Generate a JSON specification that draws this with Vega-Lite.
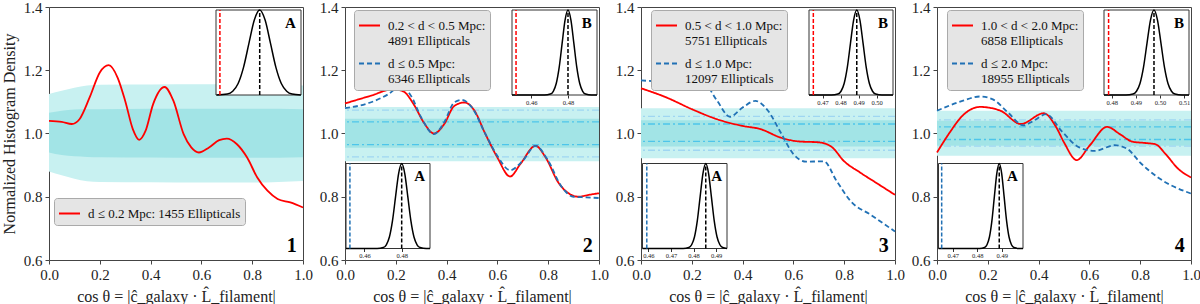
{
"$schema":"https://vega.github.io/schema/vega-lite/v6.json",
"background":"white",
"padding":{"left":0,"right":0,"top":-1,"bottom":0},
"spacing":5,
"resolve":{"scale":{"color":"independent","strokeDash":"independent"},"legend":{"color":"independent","strokeDash":"independent"}},
"config":{
 "font":"Liberation Serif",
 "view":{"stroke":"#444","strokeWidth":1},
 "axis":{"labelFont":"Liberation Serif","titleFont":"Liberation Serif","labelFontSize":15,"titleFontSize":16,"titleFontWeight":"normal","labelColor":"#222","titleColor":"#222","tickColor":"#444","grid":false,"domain":false,"labelFlush":false,"tickSize":4,"labelPadding":3,"titlePadding":6},
 "legend":{"fillColor":"#e5e5e5","strokeColor":"#aaaaaa","cornerRadius":3,"padding":4,"labelFont":"Liberation Serif","labelFontSize":13,"labelColor":"#111","symbolType":"stroke","symbolSize":441,"symbolStrokeWidth":2,"rowPadding":4,"labelLimit":0,"labelOffset":7},
 "text":{"font":"Liberation Serif"}
},
"datasets":{
 "b1":[{"x":0,"olo":0.88,"ohi":1.125,"ilo":0.94,"ihi":1.066},{"x":0.05,"olo":0.868,"ohi":1.135,"ilo":0.932,"ihi":1.072},{"x":0.1,"olo":0.857,"ohi":1.145,"ilo":0.928,"ihi":1.076},{"x":0.15,"olo":0.849,"ohi":1.152,"ilo":0.926,"ihi":1.077},{"x":0.2,"olo":0.847,"ohi":1.154,"ilo":0.925,"ihi":1.077},{"x":0.4,"olo":0.846,"ohi":1.155,"ilo":0.924,"ihi":1.078},{"x":0.6,"olo":0.845,"ohi":1.156,"ilo":0.923,"ihi":1.078},{"x":0.8,"olo":0.845,"ohi":1.155,"ilo":0.923,"ihi":1.078},{"x":1,"olo":0.85,"ohi":1.152,"ilo":0.925,"ihi":1.077}],
 "b2":[{"x":0,"olo":0.912,"ohi":1.084,"ilo":0.955,"ihi":1.047},{"x":1,"olo":0.912,"ohi":1.084,"ilo":0.955,"ihi":1.047}],
 "b3":[{"x":0,"olo":0.922,"ohi":1.08,"ilo":0.959,"ihi":1.042},{"x":1,"olo":0.922,"ohi":1.08,"ilo":0.959,"ihi":1.042}],
 "b4":[{"x":0,"olo":0.93,"ohi":1.072,"ilo":0.961,"ihi":1.04},{"x":1,"olo":0.93,"ohi":1.072,"ilo":0.961,"ihi":1.04}],
 "d2":[{"y":1.037,"k":"in"},{"y":0.965,"k":"in"},{"y":1.074,"k":"out"},{"y":0.926,"k":"out"}],
 "d3":[{"y":1.03,"k":"in"},{"y":0.975,"k":"in"},{"y":1.054,"k":"out"},{"y":0.947,"k":"out"}],
 "d4":[{"y":1.021,"k":"in"},{"y":0.981,"k":"in"},{"y":1.043,"k":"out"},{"y":0.96,"k":"out"}],
 "lab1":[{"s":"r","series":"d ≤ 0.2 Mpc: 1455 Ellipticals"}],
 "lab2":[{"s":"r","series":"0.2 < d < 0.5 Mpc:|4891 Ellipticals"},{"s":"b","series":"d ≤ 0.5 Mpc:|6346 Ellipticals"}],
 "lab3":[{"s":"r","series":"0.5 < d < 1.0 Mpc:|5751 Ellipticals"},{"s":"b","series":"d ≤ 1.0 Mpc:|12097 Ellipticals"}],
 "lab4":[{"s":"r","series":"1.0 < d < 2.0 Mpc:|6858 Ellipticals"},{"s":"b","series":"d ≤ 2.0 Mpc:|18955 Ellipticals"}],
 "c1":[{"s":"r","x":0,"y":1.04},{"s":"r","x":0.05,"y":1.037},{"s":"r","x":0.09,"y":1.03},{"s":"r","x":0.12,"y":1.045},{"s":"r","x":0.16,"y":1.114},{"s":"r","x":0.2,"y":1.193},{"s":"r","x":0.235,"y":1.216},{"s":"r","x":0.27,"y":1.177},{"s":"r","x":0.3,"y":1.103},{"s":"r","x":0.33,"y":1.014},{"s":"r","x":0.355,"y":0.98},{"s":"r","x":0.38,"y":1.008},{"s":"r","x":0.41,"y":1.093},{"s":"r","x":0.455,"y":1.147},{"s":"r","x":0.49,"y":1.103},{"s":"r","x":0.53,"y":0.998},{"s":"r","x":0.56,"y":0.956},{"s":"r","x":0.59,"y":0.94},{"s":"r","x":0.63,"y":0.956},{"s":"r","x":0.67,"y":0.979},{"s":"r","x":0.7,"y":0.984},{"s":"r","x":0.74,"y":0.966},{"s":"r","x":0.78,"y":0.924},{"s":"r","x":0.82,"y":0.861},{"s":"r","x":0.86,"y":0.819},{"s":"r","x":0.9,"y":0.793},{"s":"r","x":0.95,"y":0.782},{"s":"r","x":1,"y":0.766}],
 "c2":[{"s":"r","x":0,"y":1.095},{"s":"r","x":0.1,"y":1.119},{"s":"r","x":0.19,"y":1.14},{"s":"r","x":0.23,"y":1.133},{"s":"r","x":0.27,"y":1.093},{"s":"r","x":0.31,"y":1.035},{"s":"r","x":0.35,"y":1.0},{"s":"r","x":0.39,"y":1.029},{"s":"r","x":0.43,"y":1.087},{"s":"r","x":0.47,"y":1.098},{"s":"r","x":0.51,"y":1.072},{"s":"r","x":0.55,"y":1.003},{"s":"r","x":0.6,"y":0.924},{"s":"r","x":0.65,"y":0.864},{"s":"r","x":0.69,"y":0.903},{"s":"r","x":0.75,"y":0.961},{"s":"r","x":0.79,"y":0.924},{"s":"r","x":0.84,"y":0.845},{"s":"r","x":0.88,"y":0.811},{"s":"r","x":0.92,"y":0.8},{"s":"r","x":0.96,"y":0.806},{"s":"r","x":1,"y":0.811},
  {"s":"b","x":0,"y":1.08},{"s":"b","x":0.1,"y":1.098},{"s":"b","x":0.17,"y":1.124},{"s":"b","x":0.22,"y":1.15},{"s":"b","x":0.26,"y":1.119},{"s":"b","x":0.3,"y":1.051},{"s":"b","x":0.35,"y":0.998},{"s":"b","x":0.39,"y":1.035},{"s":"b","x":0.43,"y":1.098},{"s":"b","x":0.46,"y":1.106},{"s":"b","x":0.5,"y":1.082},{"s":"b","x":0.55,"y":1.003},{"s":"b","x":0.6,"y":0.929},{"s":"b","x":0.65,"y":0.884},{"s":"b","x":0.7,"y":0.914},{"s":"b","x":0.75,"y":0.961},{"s":"b","x":0.8,"y":0.914},{"s":"b","x":0.85,"y":0.835},{"s":"b","x":0.9,"y":0.8},{"s":"b","x":0.95,"y":0.798},{"s":"b","x":1,"y":0.796}],
 "c3":[{"s":"r","x":0,"y":1.143},{"s":"r","x":0.1,"y":1.114},{"s":"r","x":0.2,"y":1.077},{"s":"r","x":0.3,"y":1.045},{"s":"r","x":0.4,"y":1.024},{"s":"r","x":0.47,"y":1.014},{"s":"r","x":0.55,"y":0.987},{"s":"r","x":0.62,"y":0.975},{"s":"r","x":0.7,"y":0.972},{"s":"r","x":0.75,"y":0.958},{"s":"r","x":0.8,"y":0.912},{"s":"r","x":0.86,"y":0.878},{"s":"r","x":0.93,"y":0.842},{"s":"r","x":1,"y":0.806},
  {"s":"b","x":0,"y":1.168},{"s":"b","x":0.1,"y":1.164},{"s":"b","x":0.2,"y":1.175},{"s":"b","x":0.25,"y":1.161},{"s":"b","x":0.3,"y":1.103},{"s":"b","x":0.35,"y":1.053},{"s":"b","x":0.4,"y":1.082},{"s":"b","x":0.45,"y":1.103},{"s":"b","x":0.5,"y":1.072},{"s":"b","x":0.55,"y":1.003},{"s":"b","x":0.6,"y":0.935},{"s":"b","x":0.65,"y":0.911},{"s":"b","x":0.72,"y":0.912},{"s":"b","x":0.77,"y":0.85},{"s":"b","x":0.83,"y":0.782},{"s":"b","x":0.9,"y":0.745},{"s":"b","x":1,"y":0.69}],
 "c4":[{"s":"r","x":0,"y":0.94},{"s":"r","x":0.05,"y":1.003},{"s":"r","x":0.1,"y":1.056},{"s":"r","x":0.17,"y":1.084},{"s":"r","x":0.25,"y":1.072},{"s":"r","x":0.33,"y":1.03},{"s":"r","x":0.42,"y":1.064},{"s":"r","x":0.47,"y":1.019},{"s":"r","x":0.5,"y":0.972},{"s":"r","x":0.55,"y":0.916},{"s":"r","x":0.6,"y":0.961},{"s":"r","x":0.67,"y":1.021},{"s":"r","x":0.72,"y":0.998},{"s":"r","x":0.77,"y":0.974},{"s":"r","x":0.82,"y":0.97},{"s":"r","x":0.86,"y":0.966},{"s":"r","x":0.9,"y":0.935},{"s":"r","x":0.95,"y":0.888},{"s":"r","x":1,"y":0.861},
  {"s":"b","x":0,"y":1.072},{"s":"b","x":0.1,"y":1.103},{"s":"b","x":0.17,"y":1.117},{"s":"b","x":0.22,"y":1.108},{"s":"b","x":0.28,"y":1.066},{"s":"b","x":0.34,"y":1.026},{"s":"b","x":0.38,"y":1.04},{"s":"b","x":0.43,"y":1.061},{"s":"b","x":0.49,"y":1.008},{"s":"b","x":0.56,"y":0.956},{"s":"b","x":0.62,"y":0.945},{"s":"b","x":0.7,"y":0.963},{"s":"b","x":0.75,"y":0.951},{"s":"b","x":0.8,"y":0.908},{"s":"b","x":0.87,"y":0.861},{"s":"b","x":1,"y":0.81}],
 "g1":[{"x":0.448,"y":0.0003},{"x":0.456,"y":0.011},{"x":0.46,"y":0.044},{"x":0.464,"y":0.135},{"x":0.468,"y":0.325},{"x":0.472,"y":0.607},{"x":0.476,"y":0.882},{"x":0.48,"y":1},{"x":0.484,"y":0.882},{"x":0.488,"y":0.607},{"x":0.492,"y":0.325},{"x":0.496,"y":0.135},{"x":0.5,"y":0.044},{"x":0.504,"y":0.011},{"x":0.5105,"y":0.0003}],
 "g2b":[{"x":0.4495,"y":0},{"x":0.4672,"y":0.0003},{"x":0.4704,"y":0.011},{"x":0.472,"y":0.044},{"x":0.4736,"y":0.135},{"x":0.4752,"y":0.325},{"x":0.4768,"y":0.607},{"x":0.4784,"y":0.882},{"x":0.48,"y":1},{"x":0.4816,"y":0.882},{"x":0.4832,"y":0.607},{"x":0.4848,"y":0.325},{"x":0.4864,"y":0.135},{"x":0.488,"y":0.044},{"x":0.4896,"y":0.011},{"x":0.4928,"y":0.0003},{"x":0.4958,"y":0}],
 "g2a":[{"x":0.4501,"y":0},{"x":0.4668,"y":0.0003},{"x":0.4701,"y":0.011},{"x":0.47175,"y":0.044},{"x":0.4734,"y":0.135},{"x":0.47505,"y":0.325},{"x":0.4767,"y":0.607},{"x":0.47835,"y":0.882},{"x":0.48,"y":1},{"x":0.48165,"y":0.882},{"x":0.4833,"y":0.607},{"x":0.48495,"y":0.325},{"x":0.4866,"y":0.135},{"x":0.48825,"y":0.044},{"x":0.4899,"y":0.011},{"x":0.4932,"y":0.0003},{"x":0.4952,"y":0}],
 "g3b":[{"x":0.4625,"y":0},{"x":0.475,"y":0.0003},{"x":0.4785,"y":0.011},{"x":0.48025,"y":0.044},{"x":0.482,"y":0.135},{"x":0.48375,"y":0.325},{"x":0.4855,"y":0.607},{"x":0.48725,"y":0.882},{"x":0.489,"y":1},{"x":0.49075,"y":0.882},{"x":0.4925,"y":0.607},{"x":0.49425,"y":0.325},{"x":0.496,"y":0.135},{"x":0.49775,"y":0.044},{"x":0.4995,"y":0.011},{"x":0.503,"y":0.0003},{"x":0.5091,"y":0}],
 "g3a":[{"x":0.4574,"y":0},{"x":0.4754,"y":0.0003},{"x":0.4779,"y":0.011},{"x":0.47915,"y":0.044},{"x":0.4804,"y":0.135},{"x":0.48165,"y":0.325},{"x":0.4829,"y":0.607},{"x":0.48415,"y":0.882},{"x":0.4854,"y":1},{"x":0.48665,"y":0.882},{"x":0.4879,"y":0.607},{"x":0.48915,"y":0.325},{"x":0.4904,"y":0.135},{"x":0.49165,"y":0.044},{"x":0.4929,"y":0.011},{"x":0.4948,"y":0.0005}],
 "g4b":[{"x":0.4768,"y":0},{"x":0.4859,"y":0.0003},{"x":0.4888,"y":0.011},{"x":0.49025,"y":0.044},{"x":0.4917,"y":0.135},{"x":0.49315,"y":0.325},{"x":0.4946,"y":0.607},{"x":0.49605,"y":0.882},{"x":0.4975,"y":1},{"x":0.49895,"y":0.882},{"x":0.5004,"y":0.607},{"x":0.50185,"y":0.325},{"x":0.5033,"y":0.135},{"x":0.50475,"y":0.044},{"x":0.5062,"y":0.011},{"x":0.5091,"y":0.0003},{"x":0.512,"y":0}],
 "g4a":[{"x":0.4642,"y":0},{"x":0.481,"y":0.0003},{"x":0.483,"y":0.011},{"x":0.484,"y":0.044},{"x":0.485,"y":0.135},{"x":0.486,"y":0.325},{"x":0.487,"y":0.607},{"x":0.488,"y":0.882},{"x":0.489,"y":1},{"x":0.49,"y":0.882},{"x":0.491,"y":0.607},{"x":0.492,"y":0.325},{"x":0.493,"y":0.135},{"x":0.494,"y":0.044},{"x":0.495,"y":0.011},{"x":0.497,"y":0.0003},{"x":0.4987,"y":0}]
},
"hconcat":[
{
 "width":254,"height":253,
 "resolve":{"scale":{"x":"independent","y":"independent"}},
 "layer":[
   {"data":{"name":"b1"},"mark":{"type":"area","color":"#c8f1f1","interpolate":"monotone"},"encoding":{"x":{"field":"x","type":"quantitative","scale":{"domain":[0,1],"nice":false,"zero":false},"axis":{"values":[0,0.2,0.4,0.6,0.8,1],"format":".1f","title":"cos θ = |ĉ_galaxy · L̂_filament|"}},"y":{"field":"olo","type":"quantitative","scale":{"domain":[0.6,1.4],"nice":false,"zero":false},"axis":{"values":[0.6,0.8,1,1.2,1.4],"format":".1f","title":"Normalized Histogram Density"}},"y2":{"field":"ohi"}}},
   {"data":{"name":"b1"},"mark":{"type":"area","color":"#a2e4e6","interpolate":"monotone"},"encoding":{"x":{"field":"x","type":"quantitative","scale":{"domain":[0,1],"nice":false,"zero":false},"axis":null},"y":{"field":"ilo","type":"quantitative","scale":{"domain":[0.6,1.4],"nice":false,"zero":false},"axis":null},"y2":{"field":"ihi"}}},
   {"data":{"name":"c1"},"transform":[{"lookup":"s","from":{"data":{"name":"lab1"},"key":"s","fields":["series"]}}],"mark":{"type":"line","interpolate":"monotone","strokeWidth":1.8},"encoding":{"x":{"field":"x","type":"quantitative","scale":{"domain":[0,1],"nice":false,"zero":false},"axis":null},"y":{"field":"y","type":"quantitative","scale":{"domain":[0.6,1.4],"nice":false,"zero":false},"axis":null},"color":{"field":"series","type":"nominal","scale":{"domain":["d ≤ 0.2 Mpc: 1455 Ellipticals"],"range":["#ff0000"]},"legend":{"orient":"none","legendX":5,"legendY":191,"title":null,"labelExpr":"split(datum.label,'|')"}}}},
   {"data":{"values":[{"label":"1"}]},"mark":{"type":"text","fontSize":20,"fontWeight":"bold","align":"right","baseline":"alphabetic"},"encoding":{"x":{"datum":0.975,"type":"quantitative","scale":{"domain":[0,1],"nice":false,"zero":false},"axis":null},"y":{"datum":0.625,"type":"quantitative","scale":{"domain":[0.6,1.4],"nice":false,"zero":false},"axis":null},"text":{"field":"label"}}},
   {"data":{"values":[{}]},"mark":{"type":"rect","fill":"white","stroke":"#333","strokeWidth":1},"encoding":{"x":{"datum":0.4476,"type":"quantitative","scale":{"domain":[0.4476,0.5106],"range":[167,252],"nice":false,"zero":false},"axis":{"orient":"bottom","offset":-165,"values":[0.46,0.48,0.5],"format":".2f","labelFontSize":6.5,"tickSize":3,"labelPadding":1,"title":null,"labelColor":"#222","tickColor":"#333"}},"x2":{"datum":0.5106},"y":{"datum":0,"type":"quantitative","scale":{"domain":[0,1],"range":[88,3],"nice":false,"zero":false},"axis":null},"y2":{"datum":1}}},
   {"data":{"name":"g1"},"mark":{"type":"line","color":"black","strokeWidth":1.5,"interpolate":"monotone"},"encoding":{"x":{"field":"x","type":"quantitative","scale":{"domain":[0.4476,0.5106],"range":[167,252],"nice":false,"zero":false},"axis":null},"y":{"field":"y","type":"quantitative","scale":{"domain":[0,1],"range":[88,3],"nice":false,"zero":false},"axis":null}}},
   {"data":{"values":[{}]},"mark":{"type":"rule","color":"black","strokeDash":[4,2],"strokeWidth":1.5},"encoding":{"x":{"datum":0.48,"type":"quantitative","scale":{"domain":[0.4476,0.5106],"range":[167,252],"nice":false,"zero":false},"axis":null},"y":{"datum":0,"type":"quantitative","scale":{"domain":[0,1],"range":[88,3],"nice":false,"zero":false},"axis":null},"y2":{"datum":1}}},
   {"data":{"values":[{}]},"mark":{"type":"rule","color":"#ff0000","strokeDash":[4,2],"strokeWidth":1.5},"encoding":{"x":{"datum":0.4505,"type":"quantitative","scale":{"domain":[0.4476,0.5106],"range":[167,252],"nice":false,"zero":false},"axis":null},"y":{"datum":0,"type":"quantitative","scale":{"domain":[0,1],"range":[88,3],"nice":false,"zero":false},"axis":null},"y2":{"datum":1}}},
   {"data":{"values":[{"label":"A"}]},"mark":{"type":"text","fontSize":15,"fontWeight":"bold","align":"right","baseline":"alphabetic"},"encoding":{"x":{"datum":0.5068,"type":"quantitative","scale":{"domain":[0.4476,0.5106],"range":[167,252],"nice":false,"zero":false},"axis":null},"y":{"datum":0.79,"type":"quantitative","scale":{"domain":[0,1],"range":[88,3],"nice":false,"zero":false},"axis":null},"text":{"field":"label"}}}
 ]
},
{
 "width":254,"height":253,
 "resolve":{"scale":{"x":"independent","y":"independent"}},
 "layer":[
   {"data":{"name":"b2"},"mark":{"type":"area","color":"#c8f1f1"},"encoding":{"x":{"field":"x","type":"quantitative","scale":{"domain":[0,1],"nice":false,"zero":false},"axis":{"values":[0,0.2,0.4,0.6,0.8,1],"format":".1f","title":"cos θ = |ĉ_galaxy · L̂_filament|"}},"y":{"field":"olo","type":"quantitative","scale":{"domain":[0.6,1.4],"nice":false,"zero":false},"axis":{"values":[0.6,0.8,1,1.2,1.4],"format":".1f","title":null}},"y2":{"field":"ohi"}}},
   {"data":{"name":"b2"},"mark":{"type":"area","color":"#a2e4e6"},"encoding":{"x":{"field":"x","type":"quantitative","scale":{"domain":[0,1],"nice":false,"zero":false},"axis":null},"y":{"field":"ilo","type":"quantitative","scale":{"domain":[0.6,1.4],"nice":false,"zero":false},"axis":null},"y2":{"field":"ihi"}}},
   {"data":{"name":"d2"},"transform":[{"filter":"datum.k == 'out'"}],"mark":{"type":"rule","color":"#9fd6f2","strokeWidth":1.3,"strokeDash":[7,3,2,3]},"encoding":{"y":{"field":"y","type":"quantitative","scale":{"domain":[0.6,1.4],"nice":false,"zero":false},"axis":null}}},
   {"data":{"name":"d2"},"transform":[{"filter":"datum.k == 'in'"}],"mark":{"type":"rule","color":"#4ec5ea","strokeWidth":1.3,"strokeDash":[7,3,2,3]},"encoding":{"y":{"field":"y","type":"quantitative","scale":{"domain":[0.6,1.4],"nice":false,"zero":false},"axis":null}}},
   {"data":{"name":"c2"},"transform":[{"lookup":"s","from":{"data":{"name":"lab2"},"key":"s","fields":["series"]}}],"mark":{"type":"line","interpolate":"monotone","strokeWidth":1.8},"encoding":{"x":{"field":"x","type":"quantitative","scale":{"domain":[0,1],"nice":false,"zero":false},"axis":null},"y":{"field":"y","type":"quantitative","scale":{"domain":[0.6,1.4],"nice":false,"zero":false},"axis":null},"color":{"field":"series","type":"nominal","scale":{"domain":["0.2 < d < 0.5 Mpc:|4891 Ellipticals","d ≤ 0.5 Mpc:|6346 Ellipticals"],"range":["#ff0000","#2171b5"]},"legend":{"orient":"none","legendX":9,"legendY":3,"title":null,"labelExpr":"split(datum.label,'|')"}},"strokeDash":{"field":"series","type":"nominal","scale":{"domain":["0.2 < d < 0.5 Mpc:|4891 Ellipticals","d ≤ 0.5 Mpc:|6346 Ellipticals"],"range":[[1,0],[5,3]]},"legend":{"orient":"none","legendX":9,"legendY":3,"title":null,"labelExpr":"split(datum.label,'|')"}}}},
   {"data":{"values":[{"label":"2"}]},"mark":{"type":"text","fontSize":20,"fontWeight":"bold","align":"right","baseline":"alphabetic"},"encoding":{"x":{"datum":0.975,"type":"quantitative","scale":{"domain":[0,1],"nice":false,"zero":false},"axis":null},"y":{"datum":0.625,"type":"quantitative","scale":{"domain":[0.6,1.4],"nice":false,"zero":false},"axis":null},"text":{"field":"label"}}},
   {"data":{"values":[{}]},"mark":{"type":"rect","fill":"white","stroke":"#333","strokeWidth":1},"encoding":{"x":{"datum":0.4495,"type":"quantitative","scale":{"domain":[0.4495,0.4958],"range":[167,252],"nice":false,"zero":false},"axis":{"orient":"bottom","offset":-165,"values":[0.46,0.48],"format":".2f","labelFontSize":6.5,"tickSize":3,"labelPadding":1,"title":null,"labelColor":"#222","tickColor":"#333"}},"x2":{"datum":0.4958},"y":{"datum":0,"type":"quantitative","scale":{"domain":[0,1],"range":[88,3],"nice":false,"zero":false},"axis":null},"y2":{"datum":1}}},
   {"data":{"name":"g2b"},"mark":{"type":"line","color":"black","strokeWidth":1.5,"interpolate":"monotone"},"encoding":{"x":{"field":"x","type":"quantitative","scale":{"domain":[0.4495,0.4958],"range":[167,252],"nice":false,"zero":false},"axis":null},"y":{"field":"y","type":"quantitative","scale":{"domain":[0,1],"range":[88,3],"nice":false,"zero":false},"axis":null}}},
   {"data":{"values":[{}]},"mark":{"type":"rule","color":"black","strokeDash":[4,2],"strokeWidth":1.5},"encoding":{"x":{"datum":0.48,"type":"quantitative","scale":{"domain":[0.4495,0.4958],"range":[167,252],"nice":false,"zero":false},"axis":null},"y":{"datum":0,"type":"quantitative","scale":{"domain":[0,1],"range":[88,3],"nice":false,"zero":false},"axis":null},"y2":{"datum":1}}},
   {"data":{"values":[{}]},"mark":{"type":"rule","color":"#ff0000","strokeDash":[4,2],"strokeWidth":1.5},"encoding":{"x":{"datum":0.4517,"type":"quantitative","scale":{"domain":[0.4495,0.4958],"range":[167,252],"nice":false,"zero":false},"axis":null},"y":{"datum":0,"type":"quantitative","scale":{"domain":[0,1],"range":[88,3],"nice":false,"zero":false},"axis":null},"y2":{"datum":1}}},
   {"data":{"values":[{"label":"B"}]},"mark":{"type":"text","fontSize":15,"fontWeight":"bold","align":"right","baseline":"alphabetic"},"encoding":{"x":{"datum":0.493,"type":"quantitative","scale":{"domain":[0.4495,0.4958],"range":[167,252],"nice":false,"zero":false},"axis":null},"y":{"datum":0.79,"type":"quantitative","scale":{"domain":[0,1],"range":[88,3],"nice":false,"zero":false},"axis":null},"text":{"field":"label"}}},
   {"data":{"values":[{}]},"mark":{"type":"rect","fill":"white","stroke":"#333","strokeWidth":1},"encoding":{"x":{"datum":0.4501,"type":"quantitative","scale":{"domain":[0.4501,0.4952],"range":[1,85],"nice":false,"zero":false},"axis":{"orient":"bottom","offset":-11.5,"values":[0.46,0.48],"format":".2f","labelFontSize":6.5,"tickSize":3,"labelPadding":1,"title":null,"labelColor":"#222","tickColor":"#333"}},"x2":{"datum":0.4952},"y":{"datum":0,"type":"quantitative","scale":{"domain":[0,1],"range":[241.5,156.5],"nice":false,"zero":false},"axis":null},"y2":{"datum":1}}},
   {"data":{"name":"g2a"},"mark":{"type":"line","color":"black","strokeWidth":1.5,"interpolate":"monotone"},"encoding":{"x":{"field":"x","type":"quantitative","scale":{"domain":[0.4501,0.4952],"range":[1,85],"nice":false,"zero":false},"axis":null},"y":{"field":"y","type":"quantitative","scale":{"domain":[0,1],"range":[241.5,156.5],"nice":false,"zero":false},"axis":null}}},
   {"data":{"values":[{}]},"mark":{"type":"rule","color":"black","strokeDash":[4,2],"strokeWidth":1.5},"encoding":{"x":{"datum":0.48,"type":"quantitative","scale":{"domain":[0.4501,0.4952],"range":[1,85],"nice":false,"zero":false},"axis":null},"y":{"datum":0,"type":"quantitative","scale":{"domain":[0,1],"range":[241.5,156.5],"nice":false,"zero":false},"axis":null},"y2":{"datum":1}}},
   {"data":{"values":[{}]},"mark":{"type":"rule","color":"#2171b5","strokeDash":[4,2],"strokeWidth":1.5},"encoding":{"x":{"datum":0.4522,"type":"quantitative","scale":{"domain":[0.4501,0.4952],"range":[1,85],"nice":false,"zero":false},"axis":null},"y":{"datum":0,"type":"quantitative","scale":{"domain":[0,1],"range":[241.5,156.5],"nice":false,"zero":false},"axis":null},"y2":{"datum":1}}},
   {"data":{"values":[{"label":"A"}]},"mark":{"type":"text","fontSize":15,"fontWeight":"bold","align":"right","baseline":"alphabetic"},"encoding":{"x":{"datum":0.4925,"type":"quantitative","scale":{"domain":[0.4501,0.4952],"range":[1,85],"nice":false,"zero":false},"axis":null},"y":{"datum":0.79,"type":"quantitative","scale":{"domain":[0,1],"range":[241.5,156.5],"nice":false,"zero":false},"axis":null},"text":{"field":"label"}}}
 ]
},
{
 "width":254,"height":253,
 "resolve":{"scale":{"x":"independent","y":"independent"}},
 "layer":[
   {"data":{"name":"b3"},"mark":{"type":"area","color":"#c8f1f1"},"encoding":{"x":{"field":"x","type":"quantitative","scale":{"domain":[0,1],"nice":false,"zero":false},"axis":{"values":[0,0.2,0.4,0.6,0.8,1],"format":".1f","title":"cos θ = |ĉ_galaxy · L̂_filament|"}},"y":{"field":"olo","type":"quantitative","scale":{"domain":[0.6,1.4],"nice":false,"zero":false},"axis":{"values":[0.6,0.8,1,1.2,1.4],"format":".1f","title":null}},"y2":{"field":"ohi"}}},
   {"data":{"name":"b3"},"mark":{"type":"area","color":"#a2e4e6"},"encoding":{"x":{"field":"x","type":"quantitative","scale":{"domain":[0,1],"nice":false,"zero":false},"axis":null},"y":{"field":"ilo","type":"quantitative","scale":{"domain":[0.6,1.4],"nice":false,"zero":false},"axis":null},"y2":{"field":"ihi"}}},
   {"data":{"name":"d3"},"transform":[{"filter":"datum.k == 'out'"}],"mark":{"type":"rule","color":"#9fd6f2","strokeWidth":1.3,"strokeDash":[7,3,2,3]},"encoding":{"y":{"field":"y","type":"quantitative","scale":{"domain":[0.6,1.4],"nice":false,"zero":false},"axis":null}}},
   {"data":{"name":"d3"},"transform":[{"filter":"datum.k == 'in'"}],"mark":{"type":"rule","color":"#4ec5ea","strokeWidth":1.3,"strokeDash":[7,3,2,3]},"encoding":{"y":{"field":"y","type":"quantitative","scale":{"domain":[0.6,1.4],"nice":false,"zero":false},"axis":null}}},
   {"data":{"name":"c3"},"transform":[{"lookup":"s","from":{"data":{"name":"lab3"},"key":"s","fields":["series"]}}],"mark":{"type":"line","interpolate":"monotone","strokeWidth":1.8},"encoding":{"x":{"field":"x","type":"quantitative","scale":{"domain":[0,1],"nice":false,"zero":false},"axis":null},"y":{"field":"y","type":"quantitative","scale":{"domain":[0.6,1.4],"nice":false,"zero":false},"axis":null},"color":{"field":"series","type":"nominal","scale":{"domain":["0.5 < d < 1.0 Mpc:|5751 Ellipticals","d ≤ 1.0 Mpc:|12097 Ellipticals"],"range":["#ff0000","#2171b5"]},"legend":{"orient":"none","legendX":10,"legendY":3,"title":null,"labelExpr":"split(datum.label,'|')"}},"strokeDash":{"field":"series","type":"nominal","scale":{"domain":["0.5 < d < 1.0 Mpc:|5751 Ellipticals","d ≤ 1.0 Mpc:|12097 Ellipticals"],"range":[[1,0],[5,3]]},"legend":{"orient":"none","legendX":10,"legendY":3,"title":null,"labelExpr":"split(datum.label,'|')"}}}},
   {"data":{"values":[{"label":"3"}]},"mark":{"type":"text","fontSize":20,"fontWeight":"bold","align":"right","baseline":"alphabetic"},"encoding":{"x":{"datum":0.975,"type":"quantitative","scale":{"domain":[0,1],"nice":false,"zero":false},"axis":null},"y":{"datum":0.625,"type":"quantitative","scale":{"domain":[0.6,1.4],"nice":false,"zero":false},"axis":null},"text":{"field":"label"}}},
   {"data":{"values":[{}]},"mark":{"type":"rect","fill":"white","stroke":"#333","strokeWidth":1},"encoding":{"x":{"datum":0.4625,"type":"quantitative","scale":{"domain":[0.4625,0.5091],"range":[168,252],"nice":false,"zero":false},"axis":{"orient":"bottom","offset":-165,"values":[0.47,0.48,0.49,0.5],"format":".2f","labelFontSize":6.5,"tickSize":3,"labelPadding":1,"title":null,"labelColor":"#222","tickColor":"#333"}},"x2":{"datum":0.5091},"y":{"datum":0,"type":"quantitative","scale":{"domain":[0,1],"range":[88,3],"nice":false,"zero":false},"axis":null},"y2":{"datum":1}}},
   {"data":{"name":"g3b"},"mark":{"type":"line","color":"black","strokeWidth":1.5,"interpolate":"monotone"},"encoding":{"x":{"field":"x","type":"quantitative","scale":{"domain":[0.4625,0.5091],"range":[168,252],"nice":false,"zero":false},"axis":null},"y":{"field":"y","type":"quantitative","scale":{"domain":[0,1],"range":[88,3],"nice":false,"zero":false},"axis":null}}},
   {"data":{"values":[{}]},"mark":{"type":"rule","color":"black","strokeDash":[4,2],"strokeWidth":1.5},"encoding":{"x":{"datum":0.489,"type":"quantitative","scale":{"domain":[0.4625,0.5091],"range":[168,252],"nice":false,"zero":false},"axis":null},"y":{"datum":0,"type":"quantitative","scale":{"domain":[0,1],"range":[88,3],"nice":false,"zero":false},"axis":null},"y2":{"datum":1}}},
   {"data":{"values":[{}]},"mark":{"type":"rule","color":"#ff0000","strokeDash":[4,2],"strokeWidth":1.5},"encoding":{"x":{"datum":0.4649,"type":"quantitative","scale":{"domain":[0.4625,0.5091],"range":[168,252],"nice":false,"zero":false},"axis":null},"y":{"datum":0,"type":"quantitative","scale":{"domain":[0,1],"range":[88,3],"nice":false,"zero":false},"axis":null},"y2":{"datum":1}}},
   {"data":{"values":[{"label":"B"}]},"mark":{"type":"text","fontSize":15,"fontWeight":"bold","align":"right","baseline":"alphabetic"},"encoding":{"x":{"datum":0.5063,"type":"quantitative","scale":{"domain":[0.4625,0.5091],"range":[168,252],"nice":false,"zero":false},"axis":null},"y":{"datum":0.79,"type":"quantitative","scale":{"domain":[0,1],"range":[88,3],"nice":false,"zero":false},"axis":null},"text":{"field":"label"}}},
   {"data":{"values":[{}]},"mark":{"type":"rect","fill":"white","stroke":"#333","strokeWidth":1},"encoding":{"x":{"datum":0.4574,"type":"quantitative","scale":{"domain":[0.4574,0.4948],"range":[1.5,86],"nice":false,"zero":false},"axis":{"orient":"bottom","offset":-11.5,"values":[0.46,0.47,0.48,0.49],"format":".2f","labelFontSize":6.5,"tickSize":3,"labelPadding":1,"title":null,"labelColor":"#222","tickColor":"#333"}},"x2":{"datum":0.4948},"y":{"datum":0,"type":"quantitative","scale":{"domain":[0,1],"range":[241.5,156.5],"nice":false,"zero":false},"axis":null},"y2":{"datum":1}}},
   {"data":{"name":"g3a"},"mark":{"type":"line","color":"black","strokeWidth":1.5,"interpolate":"monotone"},"encoding":{"x":{"field":"x","type":"quantitative","scale":{"domain":[0.4574,0.4948],"range":[1.5,86],"nice":false,"zero":false},"axis":null},"y":{"field":"y","type":"quantitative","scale":{"domain":[0,1],"range":[241.5,156.5],"nice":false,"zero":false},"axis":null}}},
   {"data":{"values":[{}]},"mark":{"type":"rule","color":"black","strokeDash":[4,2],"strokeWidth":1.5},"encoding":{"x":{"datum":0.4854,"type":"quantitative","scale":{"domain":[0.4574,0.4948],"range":[1.5,86],"nice":false,"zero":false},"axis":null},"y":{"datum":0,"type":"quantitative","scale":{"domain":[0,1],"range":[241.5,156.5],"nice":false,"zero":false},"axis":null},"y2":{"datum":1}}},
   {"data":{"values":[{}]},"mark":{"type":"rule","color":"#2171b5","strokeDash":[4,2],"strokeWidth":1.5},"encoding":{"x":{"datum":0.4593,"type":"quantitative","scale":{"domain":[0.4574,0.4948],"range":[1.5,86],"nice":false,"zero":false},"axis":null},"y":{"datum":0,"type":"quantitative","scale":{"domain":[0,1],"range":[241.5,156.5],"nice":false,"zero":false},"axis":null},"y2":{"datum":1}}},
   {"data":{"values":[{"label":"A"}]},"mark":{"type":"text","fontSize":15,"fontWeight":"bold","align":"right","baseline":"alphabetic"},"encoding":{"x":{"datum":0.4926,"type":"quantitative","scale":{"domain":[0.4574,0.4948],"range":[1.5,86],"nice":false,"zero":false},"axis":null},"y":{"datum":0.79,"type":"quantitative","scale":{"domain":[0,1],"range":[241.5,156.5],"nice":false,"zero":false},"axis":null},"text":{"field":"label"}}}
 ]
},
{
 "width":254,"height":253,
 "resolve":{"scale":{"x":"independent","y":"independent"}},
 "layer":[
   {"data":{"name":"b4"},"mark":{"type":"area","color":"#c8f1f1"},"encoding":{"x":{"field":"x","type":"quantitative","scale":{"domain":[0,1],"nice":false,"zero":false},"axis":{"values":[0,0.2,0.4,0.6,0.8,1],"format":".1f","title":"cos θ = |ĉ_galaxy · L̂_filament|"}},"y":{"field":"olo","type":"quantitative","scale":{"domain":[0.6,1.4],"nice":false,"zero":false},"axis":{"values":[0.6,0.8,1,1.2,1.4],"format":".1f","title":null}},"y2":{"field":"ohi"}}},
   {"data":{"name":"b4"},"mark":{"type":"area","color":"#a2e4e6"},"encoding":{"x":{"field":"x","type":"quantitative","scale":{"domain":[0,1],"nice":false,"zero":false},"axis":null},"y":{"field":"ilo","type":"quantitative","scale":{"domain":[0.6,1.4],"nice":false,"zero":false},"axis":null},"y2":{"field":"ihi"}}},
   {"data":{"name":"d4"},"transform":[{"filter":"datum.k == 'out'"}],"mark":{"type":"rule","color":"#9fd6f2","strokeWidth":1.3,"strokeDash":[7,3,2,3]},"encoding":{"y":{"field":"y","type":"quantitative","scale":{"domain":[0.6,1.4],"nice":false,"zero":false},"axis":null}}},
   {"data":{"name":"d4"},"transform":[{"filter":"datum.k == 'in'"}],"mark":{"type":"rule","color":"#4ec5ea","strokeWidth":1.3,"strokeDash":[7,3,2,3]},"encoding":{"y":{"field":"y","type":"quantitative","scale":{"domain":[0.6,1.4],"nice":false,"zero":false},"axis":null}}},
   {"data":{"name":"c4"},"transform":[{"lookup":"s","from":{"data":{"name":"lab4"},"key":"s","fields":["series"]}}],"mark":{"type":"line","interpolate":"monotone","strokeWidth":1.8},"encoding":{"x":{"field":"x","type":"quantitative","scale":{"domain":[0,1],"nice":false,"zero":false},"axis":null},"y":{"field":"y","type":"quantitative","scale":{"domain":[0.6,1.4],"nice":false,"zero":false},"axis":null},"color":{"field":"series","type":"nominal","scale":{"domain":["1.0 < d < 2.0 Mpc:|6858 Ellipticals","d ≤ 2.0 Mpc:|18955 Ellipticals"],"range":["#ff0000","#2171b5"]},"legend":{"orient":"none","legendX":10,"legendY":3,"title":null,"labelExpr":"split(datum.label,'|')"}},"strokeDash":{"field":"series","type":"nominal","scale":{"domain":["1.0 < d < 2.0 Mpc:|6858 Ellipticals","d ≤ 2.0 Mpc:|18955 Ellipticals"],"range":[[1,0],[5,3]]},"legend":{"orient":"none","legendX":10,"legendY":3,"title":null,"labelExpr":"split(datum.label,'|')"}}}},
   {"data":{"values":[{"label":"4"}]},"mark":{"type":"text","fontSize":20,"fontWeight":"bold","align":"right","baseline":"alphabetic"},"encoding":{"x":{"datum":0.975,"type":"quantitative","scale":{"domain":[0,1],"nice":false,"zero":false},"axis":null},"y":{"datum":0.625,"type":"quantitative","scale":{"domain":[0.6,1.4],"nice":false,"zero":false},"axis":null},"text":{"field":"label"}}},
   {"data":{"values":[{}]},"mark":{"type":"rect","fill":"white","stroke":"#333","strokeWidth":1},"encoding":{"x":{"datum":0.4768,"type":"quantitative","scale":{"domain":[0.4768,0.512],"range":[167,252],"nice":false,"zero":false},"axis":{"orient":"bottom","offset":-165,"values":[0.48,0.49,0.5,0.51],"format":".2f","labelFontSize":6.5,"tickSize":3,"labelPadding":1,"title":null,"labelColor":"#222","tickColor":"#333"}},"x2":{"datum":0.512},"y":{"datum":0,"type":"quantitative","scale":{"domain":[0,1],"range":[88,3],"nice":false,"zero":false},"axis":null},"y2":{"datum":1}}},
   {"data":{"name":"g4b"},"mark":{"type":"line","color":"black","strokeWidth":1.5,"interpolate":"monotone"},"encoding":{"x":{"field":"x","type":"quantitative","scale":{"domain":[0.4768,0.512],"range":[167,252],"nice":false,"zero":false},"axis":null},"y":{"field":"y","type":"quantitative","scale":{"domain":[0,1],"range":[88,3],"nice":false,"zero":false},"axis":null}}},
   {"data":{"values":[{}]},"mark":{"type":"rule","color":"black","strokeDash":[4,2],"strokeWidth":1.5},"encoding":{"x":{"datum":0.4975,"type":"quantitative","scale":{"domain":[0.4768,0.512],"range":[167,252],"nice":false,"zero":false},"axis":null},"y":{"datum":0,"type":"quantitative","scale":{"domain":[0,1],"range":[88,3],"nice":false,"zero":false},"axis":null},"y2":{"datum":1}}},
   {"data":{"values":[{}]},"mark":{"type":"rule","color":"#ff0000","strokeDash":[4,2],"strokeWidth":1.5},"encoding":{"x":{"datum":0.4787,"type":"quantitative","scale":{"domain":[0.4768,0.512],"range":[167,252],"nice":false,"zero":false},"axis":null},"y":{"datum":0,"type":"quantitative","scale":{"domain":[0,1],"range":[88,3],"nice":false,"zero":false},"axis":null},"y2":{"datum":1}}},
   {"data":{"values":[{"label":"B"}]},"mark":{"type":"text","fontSize":15,"fontWeight":"bold","align":"right","baseline":"alphabetic"},"encoding":{"x":{"datum":0.5099,"type":"quantitative","scale":{"domain":[0.4768,0.512],"range":[167,252],"nice":false,"zero":false},"axis":null},"y":{"datum":0.79,"type":"quantitative","scale":{"domain":[0,1],"range":[88,3],"nice":false,"zero":false},"axis":null},"text":{"field":"label"}}},
   {"data":{"values":[{}]},"mark":{"type":"rect","fill":"white","stroke":"#333","strokeWidth":1},"encoding":{"x":{"datum":0.4642,"type":"quantitative","scale":{"domain":[0.4642,0.4987],"range":[1.5,86],"nice":false,"zero":false},"axis":{"orient":"bottom","offset":-11.5,"values":[0.47,0.48,0.49],"format":".2f","labelFontSize":6.5,"tickSize":3,"labelPadding":1,"title":null,"labelColor":"#222","tickColor":"#333"}},"x2":{"datum":0.4987},"y":{"datum":0,"type":"quantitative","scale":{"domain":[0,1],"range":[241.5,156.5],"nice":false,"zero":false},"axis":null},"y2":{"datum":1}}},
   {"data":{"name":"g4a"},"mark":{"type":"line","color":"black","strokeWidth":1.5,"interpolate":"monotone"},"encoding":{"x":{"field":"x","type":"quantitative","scale":{"domain":[0.4642,0.4987],"range":[1.5,86],"nice":false,"zero":false},"axis":null},"y":{"field":"y","type":"quantitative","scale":{"domain":[0,1],"range":[241.5,156.5],"nice":false,"zero":false},"axis":null}}},
   {"data":{"values":[{}]},"mark":{"type":"rule","color":"black","strokeDash":[4,2],"strokeWidth":1.5},"encoding":{"x":{"datum":0.489,"type":"quantitative","scale":{"domain":[0.4642,0.4987],"range":[1.5,86],"nice":false,"zero":false},"axis":null},"y":{"datum":0,"type":"quantitative","scale":{"domain":[0,1],"range":[241.5,156.5],"nice":false,"zero":false},"axis":null},"y2":{"datum":1}}},
   {"data":{"values":[{}]},"mark":{"type":"rule","color":"#2171b5","strokeDash":[4,2],"strokeWidth":1.5},"encoding":{"x":{"datum":0.4655,"type":"quantitative","scale":{"domain":[0.4642,0.4987],"range":[1.5,86],"nice":false,"zero":false},"axis":null},"y":{"datum":0,"type":"quantitative","scale":{"domain":[0,1],"range":[241.5,156.5],"nice":false,"zero":false},"axis":null},"y2":{"datum":1}}},
   {"data":{"values":[{"label":"A"}]},"mark":{"type":"text","fontSize":15,"fontWeight":"bold","align":"right","baseline":"alphabetic"},"encoding":{"x":{"datum":0.4966,"type":"quantitative","scale":{"domain":[0.4642,0.4987],"range":[1.5,86],"nice":false,"zero":false},"axis":null},"y":{"datum":0.79,"type":"quantitative","scale":{"domain":[0,1],"range":[241.5,156.5],"nice":false,"zero":false},"axis":null},"text":{"field":"label"}}}
 ]
}
]
}
